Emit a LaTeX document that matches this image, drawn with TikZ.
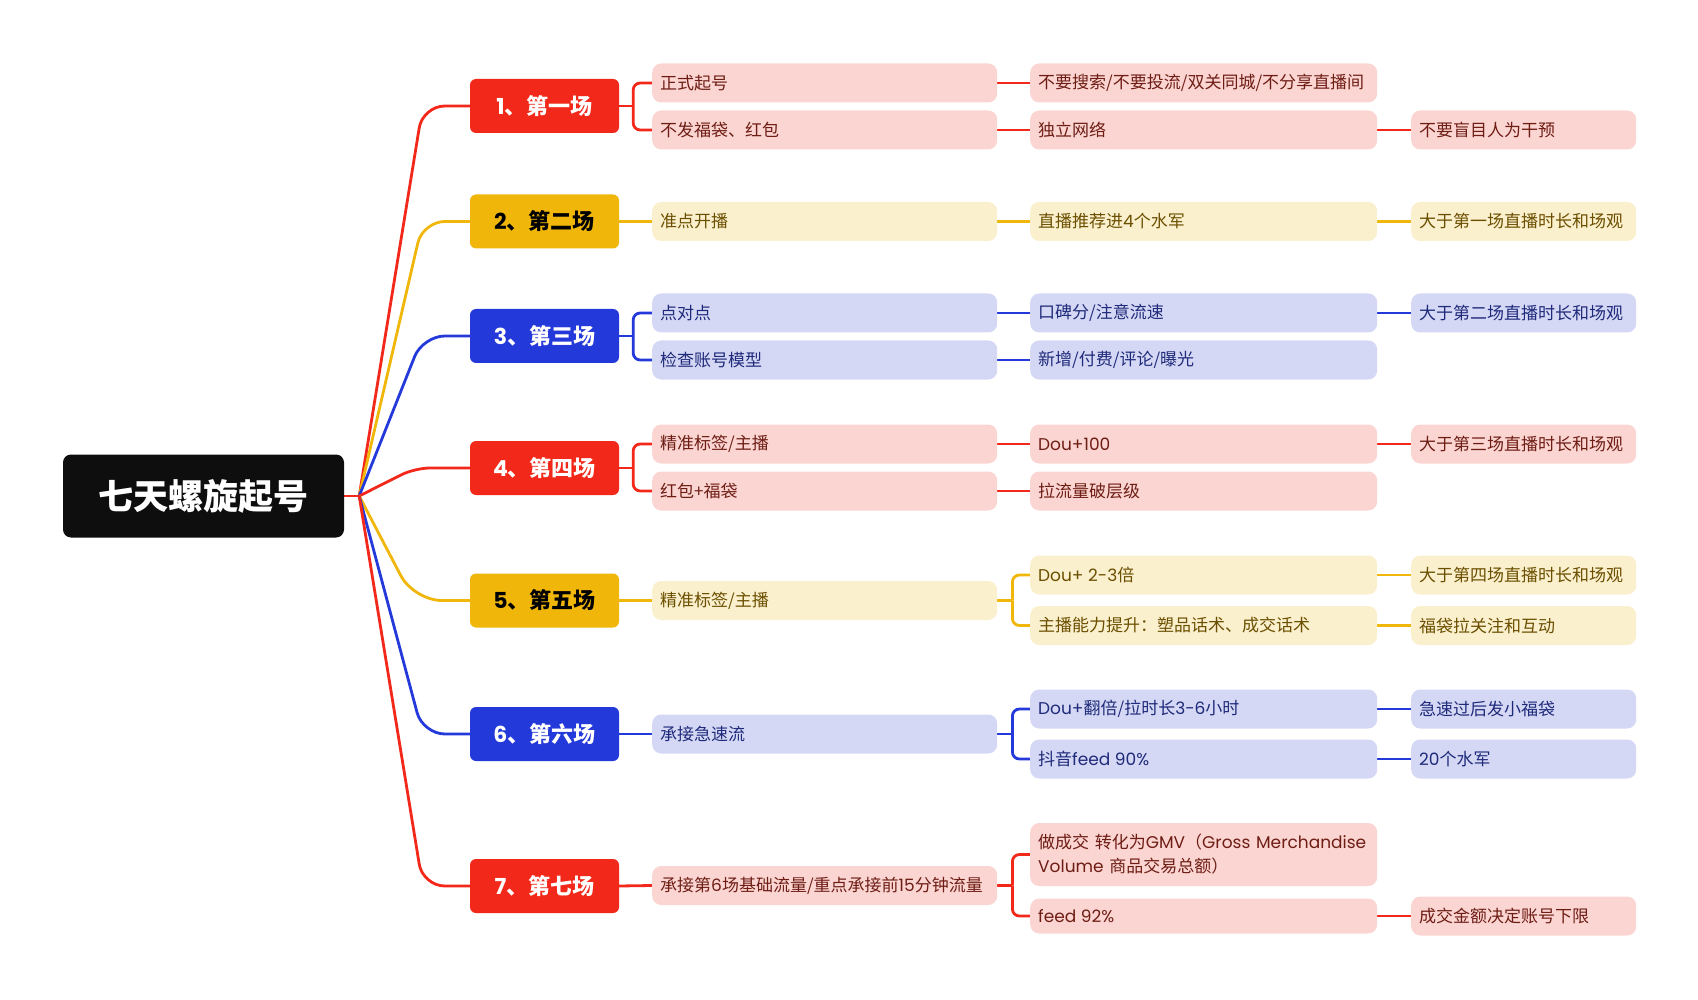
\documentclass[tikz,border=0pt]{standalone}
\usepackage{fontspec}
\setmainfont{Noto Sans CJK SC}
\newfontfamily\pop{Poppins}
\usetikzlibrary{calc}
\definecolor{cr}{HTML}{F2291A}
\definecolor{cy}{HTML}{F0B70A}
\definecolor{cb}{HTML}{2439D9}
\definecolor{fr}{HTML}{FBD5D1}
\definecolor{fy}{HTML}{FBF0CE}
\definecolor{fb}{HTML}{D4D8F5}
\definecolor{tr}{HTML}{6E1D15}
\definecolor{ty}{HTML}{6B4F00}
\definecolor{tb}{HTML}{1F2A7A}
\definecolor{rootc}{HTML}{0E0E0E}
\newcommand\lt[1]{{\pop #1}}
\newcommand\wa[1]{\makebox[329pt][l]{#1}}
\newcommand\wb[1]{\makebox[331pt][l]{#1}}
\newcommand\wc[1]{\makebox[209pt][l]{#1}}
\pgfdeclarelayer{bg}
\pgfsetlayers{bg,main}
\begin{document}
\begin{tikzpicture}[x=1pt,y=-1pt,
  rootbox/.style={fill=rootc, rounded corners=8, minimum width=281, minimum height=83, text=white, inner sep=0, font=\fontsize{35}{40}\selectfont\bfseries},
  lone/.style={rounded corners=6, minimum width=149, minimum height=54, inner sep=0, font=\fontsize{22}{26}\selectfont\bfseries},
  box/.style={rounded corners=9, minimum height=39, inner xsep=8, inner ysep=0, anchor=west, font=\fontsize{17}{24}\selectfont},
  rb/.style={box, fill=fr, text=tr},
  yb/.style={box, fill=fy, text=ty},
  bb/.style={box, fill=fb, text=tb},
  ln/.style={line width=2.8},
  brk/.style={ln, rounded corners=7}]
\useasboundingbox (0,0) rectangle (1698,1000);

% root
\node[rootbox] (root) at (203.5,496) {七天螺旋起号};

% level 1
\node[lone, fill=cr, text=white] (n1) at (544.5,106) {\lt{1}、第一场};
\node[lone, fill=cy, text=black] (n2) at (544.5,221.5) {\lt{2}、第二场};
\node[lone, fill=cb, text=white] (n3) at (544.5,336) {\lt{3}、第三场};
\node[lone, fill=cr, text=white] (n4) at (544.5,468) {\lt{4}、第四场};
\node[lone, fill=cy, text=black] (n5) at (544.5,600.5) {\lt{5}、第五场};
\node[lone, fill=cb, text=white] (n6) at (544.5,734) {\lt{6}、第六场};
\node[lone, fill=cr, text=white] (n7) at (544.5,886) {\lt{7}、第七场};

% level 2
\node[rb] (c1a) at (652,83) {\wa{正式起号}};
\node[rb] (c1b) at (652,130) {\wa{不发福袋、红包}};
\node[yb] (c2) at (652,221.5) {\wa{准点开播}};
\node[bb] (c3a) at (652,313) {\wa{点对点}};
\node[bb] (c3b) at (652,360) {\wa{检查账号模型}};
\node[rb] (c4a) at (652,444) {\wa{精准标签/主播}};
\node[rb] (c4b) at (652,491) {\wa{红包+福袋}};
\node[yb] (c5) at (652,600.5) {\wa{精准标签/主播}};
\node[bb] (c6) at (652,734) {\wa{承接急速流}};
\node[rb] (c7) at (652,885.5) {\wa{承接第\lt{6}场基础流量/重点承接前\lt{15}分钟流量}};

% level 3
\node[rb] (d1a) at (1030,83) {\wb{不要搜索/不要投流/双关同城/不分享直播间}};
\node[rb] (d1b) at (1030,130) {\wb{独立网络}};
\node[yb] (d2) at (1030,221.5) {\wb{直播推荐进\lt{4}个水军}};
\node[bb] (d3a) at (1030,313) {\wb{口碑分/注意流速}};
\node[bb] (d3b) at (1030,360) {\wb{新增/付费/评论/曝光}};
\node[rb] (d4a) at (1030,444) {\wb{\lt{Dou+100}}};
\node[rb] (d4b) at (1030,491) {\wb{拉流量破层级}};
\node[yb] (d5a) at (1030,575) {\wb{\lt{Dou+ 2-3}倍}};
\node[yb] (d5b) at (1030,625.5) {\wb{主播能力提升：塑品话术、成交话术}};
\node[bb] (d6a) at (1030,709) {\wb{\lt{Dou+}翻倍/拉时长\lt{3-6}小时}};
\node[bb] (d6b) at (1030,759) {\wb{抖音\lt{feed 90\%}}};
\node[rb, minimum height=63, text width=331, align=left] (d7a) at (1030,854.5) {做成交 转化为\lt{GMV}（\lt{Gross Merchandise}\\\lt{Volume} 商品交易总额）};
\node[rb, minimum height=35] (d7b) at (1030,916) {\wb{\lt{feed 92\%}}};

% level 4
\node[rb] (e1b) at (1411,130) {\wc{不要盲目人为干预}};
\node[yb] (e2) at (1411,221.5) {\wc{大于第一场直播时长和场观}};
\node[bb] (e3a) at (1411,313) {\wc{大于第二场直播时长和场观}};
\node[rb] (e4a) at (1411,444) {\wc{大于第三场直播时长和场观}};
\node[yb] (e5a) at (1411,575) {\wc{大于第四场直播时长和场观}};
\node[yb] (e5b) at (1411,625.5) {\wc{福袋拉关注和互动}};
\node[bb] (e6a) at (1411,709) {\wc{急速过后发小福袋}};
\node[bb] (e6b) at (1411,759) {\wc{\lt{20}个水军}};
\node[rb] (e7b) at (1411,916) {\wc{成交金额决定账号下限}};

\begin{pgfonlayer}{bg}
% root to level 1
\coordinate (r0) at ($(root.east)+(15,0)$);
\draw[ln, cr, rounded corners=22] (r0) -- ($(n1.west)+(-47,0)$) -- (n1.west);
\draw[ln, cy, rounded corners=22] (r0) -- ($(n2.west)+(-47,0)$) -- (n2.west);
\draw[ln, cb, rounded corners=22] (r0) -- ($(n3.west)+(-47,0)$) -- (n3.west);
\draw[ln, cr, rounded corners=15] (r0) -- ($(n4.west)+(-55,0)$) -- (n4.west);
\draw[ln, cy, rounded corners=28] (r0) -- ($(n5.west)+(-56,0)$) -- (n5.west);
\draw[ln, cb, rounded corners=22] (r0) -- ($(n6.west)+(-47,0)$) -- (n6.west);
\draw[ln, cr, rounded corners=22] (r0) -- ($(n7.west)+(-47,0)$) -- (n7.west);
\draw[ln, cr] (root.east) -- (r0);

% level 1 to level 2
\coordinate (b1) at ($(n1.east)+(14,0)$);
\draw[ln, cr] (n1.east) -- (b1);
\draw[brk, cr] (b1) |- (c1a.west);
\draw[brk, cr] (b1) |- (c1b.west);
\draw[ln, cy] (n2.east) -- (c2.west);
\coordinate (b3) at ($(n3.east)+(14,0)$);
\draw[ln, cb] (n3.east) -- (b3);
\draw[brk, cb] (b3) |- (c3a.west);
\draw[brk, cb] (b3) |- (c3b.west);
\coordinate (b4) at ($(n4.east)+(14,0)$);
\draw[ln, cr] (n4.east) -- (b4);
\draw[brk, cr] (b4) |- (c4a.west);
\draw[brk, cr] (b4) |- (c4b.west);
\draw[ln, cy] (n5.east) -- (c5.west);
\draw[ln, cb] (n6.east) -- (c6.west);
\draw[ln, cr] (n7.east) -- (c7.west);

% level 2 to level 3
\draw[ln, cr] (c1a.east) -- (d1a.west);
\draw[ln, cr] (c1b.east) -- (d1b.west);
\draw[ln, cy] (c2.east) -- (d2.west);
\draw[ln, cb] (c3a.east) -- (d3a.west);
\draw[ln, cb] (c3b.east) -- (d3b.west);
\draw[ln, cr] (c4a.east) -- (d4a.west);
\draw[ln, cr] (c4b.east) -- (d4b.west);
\coordinate (g5) at ($(c5.east)+(15,0)$);
\draw[ln, cy] (c5.east) -- (g5);
\draw[brk, cy] (g5) |- (d5a.west);
\draw[brk, cy] (g5) |- (d5b.west);
\coordinate (g6) at ($(c6.east)+(15,0)$);
\draw[ln, cb] (c6.east) -- (g6);
\draw[brk, cb] (g6) |- (d6a.west);
\draw[brk, cb] (g6) |- (d6b.west);
\coordinate (g7) at ($(c7.east)+(15,0)$);
\draw[ln, cr] (c7.east) -- (g7);
\draw[brk, cr] (g7) |- (d7a.west);
\draw[brk, cr] (g7) |- (d7b.west);

% level 3 to level 4
\draw[ln, cr] (d1b.east) -- (e1b.west);
\draw[ln, cy] (d2.east) -- (e2.west);
\draw[ln, cb] (d3a.east) -- (e3a.west);
\draw[ln, cr] (d4a.east) -- (e4a.west);
\draw[ln, cy] (d5a.east) -- (e5a.west);
\draw[ln, cy] (d5b.east) -- (e5b.west);
\draw[ln, cb] (d6a.east) -- (e6a.west);
\draw[ln, cb] (d6b.east) -- (e6b.west);
\draw[ln, cr] (d7b.east) -- (e7b.west);
\end{pgfonlayer}
\end{tikzpicture}
\end{document}
